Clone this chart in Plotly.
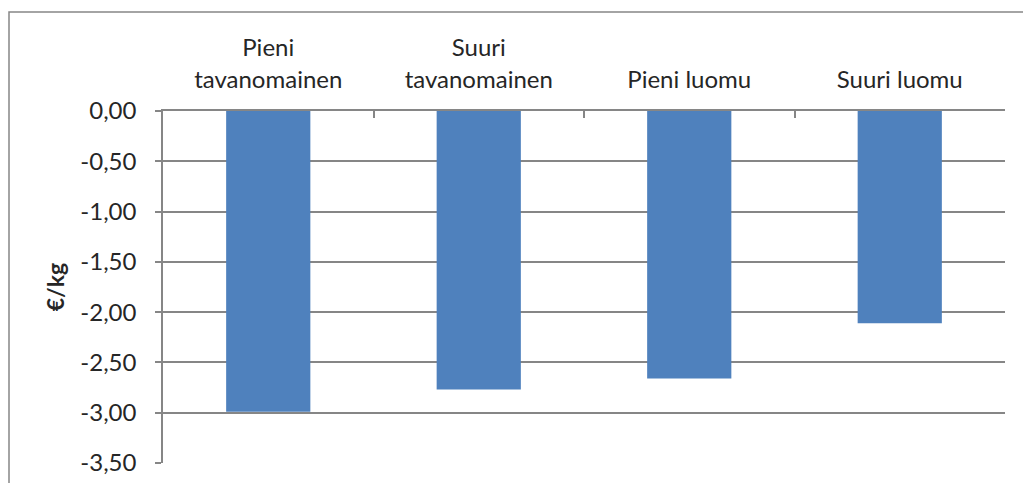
import plotly.graph_objects as go

categories = ["Pieni<br>tavanomainen", "Suuri<br>tavanomainen", "Pieni luomu", "Suuri luomu"]
values = [-2.99, -2.77, -2.66, -2.11]
y_ticks = [0, -0.5, -1.0, -1.5, -2.0, -2.5, -3.0, -3.5]
y_tick_labels = ["0,00", "-0,50", "-1,00", "-1,50", "-2,00", "-2,50", "-3,00", "-3,50"]

L, R, T, B = 163, 18, 111, 20
W, H = 1023, 483
pw, ph = W - L - R, H - T - B

fig = go.Figure(go.Bar(x=categories, y=values, marker=dict(color="#4F81BD", line=dict(width=0)), width=0.4))

font = "Lato, 'Open Sans', sans-serif"
txt = "#262626"
grid = "#868686"
fig.update_layout(
    width=W, height=H,
    margin=dict(l=L, r=R, t=T, b=B, autoexpand=False),
    paper_bgcolor="white", plot_bgcolor="white",
    showlegend=False,
    font=dict(family=font, size=24, color=txt),
    xaxis=dict(side="top", ticks="inside", tickson="boundaries", ticklen=7,
               tickcolor=grid, tickwidth=1.5, showline=True, linecolor=grid, linewidth=1.5,
               showgrid=False, tickfont=dict(size=24, color=txt), ticklabelstandoff=12),
    yaxis=dict(range=[-3.5, 0], tickvals=y_ticks, ticktext=y_tick_labels, showgrid=True,
               gridcolor=grid, gridwidth=1.5, showline=True, linecolor=grid, linewidth=1.5,
               ticks="outside", ticklen=6, tickcolor=grid, tickwidth=1.5, zeroline=False,
               tickfont=dict(size=24, color=txt), ticklabelstandoff=14,
               title=dict(text="<b>€/kg</b>", font=dict(size=23, color=txt), standoff=9)),
)

fig.add_shape(type="rect", xref="paper", yref="paper",
              x0=(9 - L) / pw, x1=(W + 20 - L) / pw,
              y0=-(B + 20) / ph, y1=(H - B - 12) / ph,
              line=dict(color=grid, width=1.5), fillcolor="rgba(0,0,0,0)", layer="below")

fig.write_html("out.html", config={"displayModeBar": False},
               post_script="document.body.style.margin='0';document.body.style.overflow='hidden';")
